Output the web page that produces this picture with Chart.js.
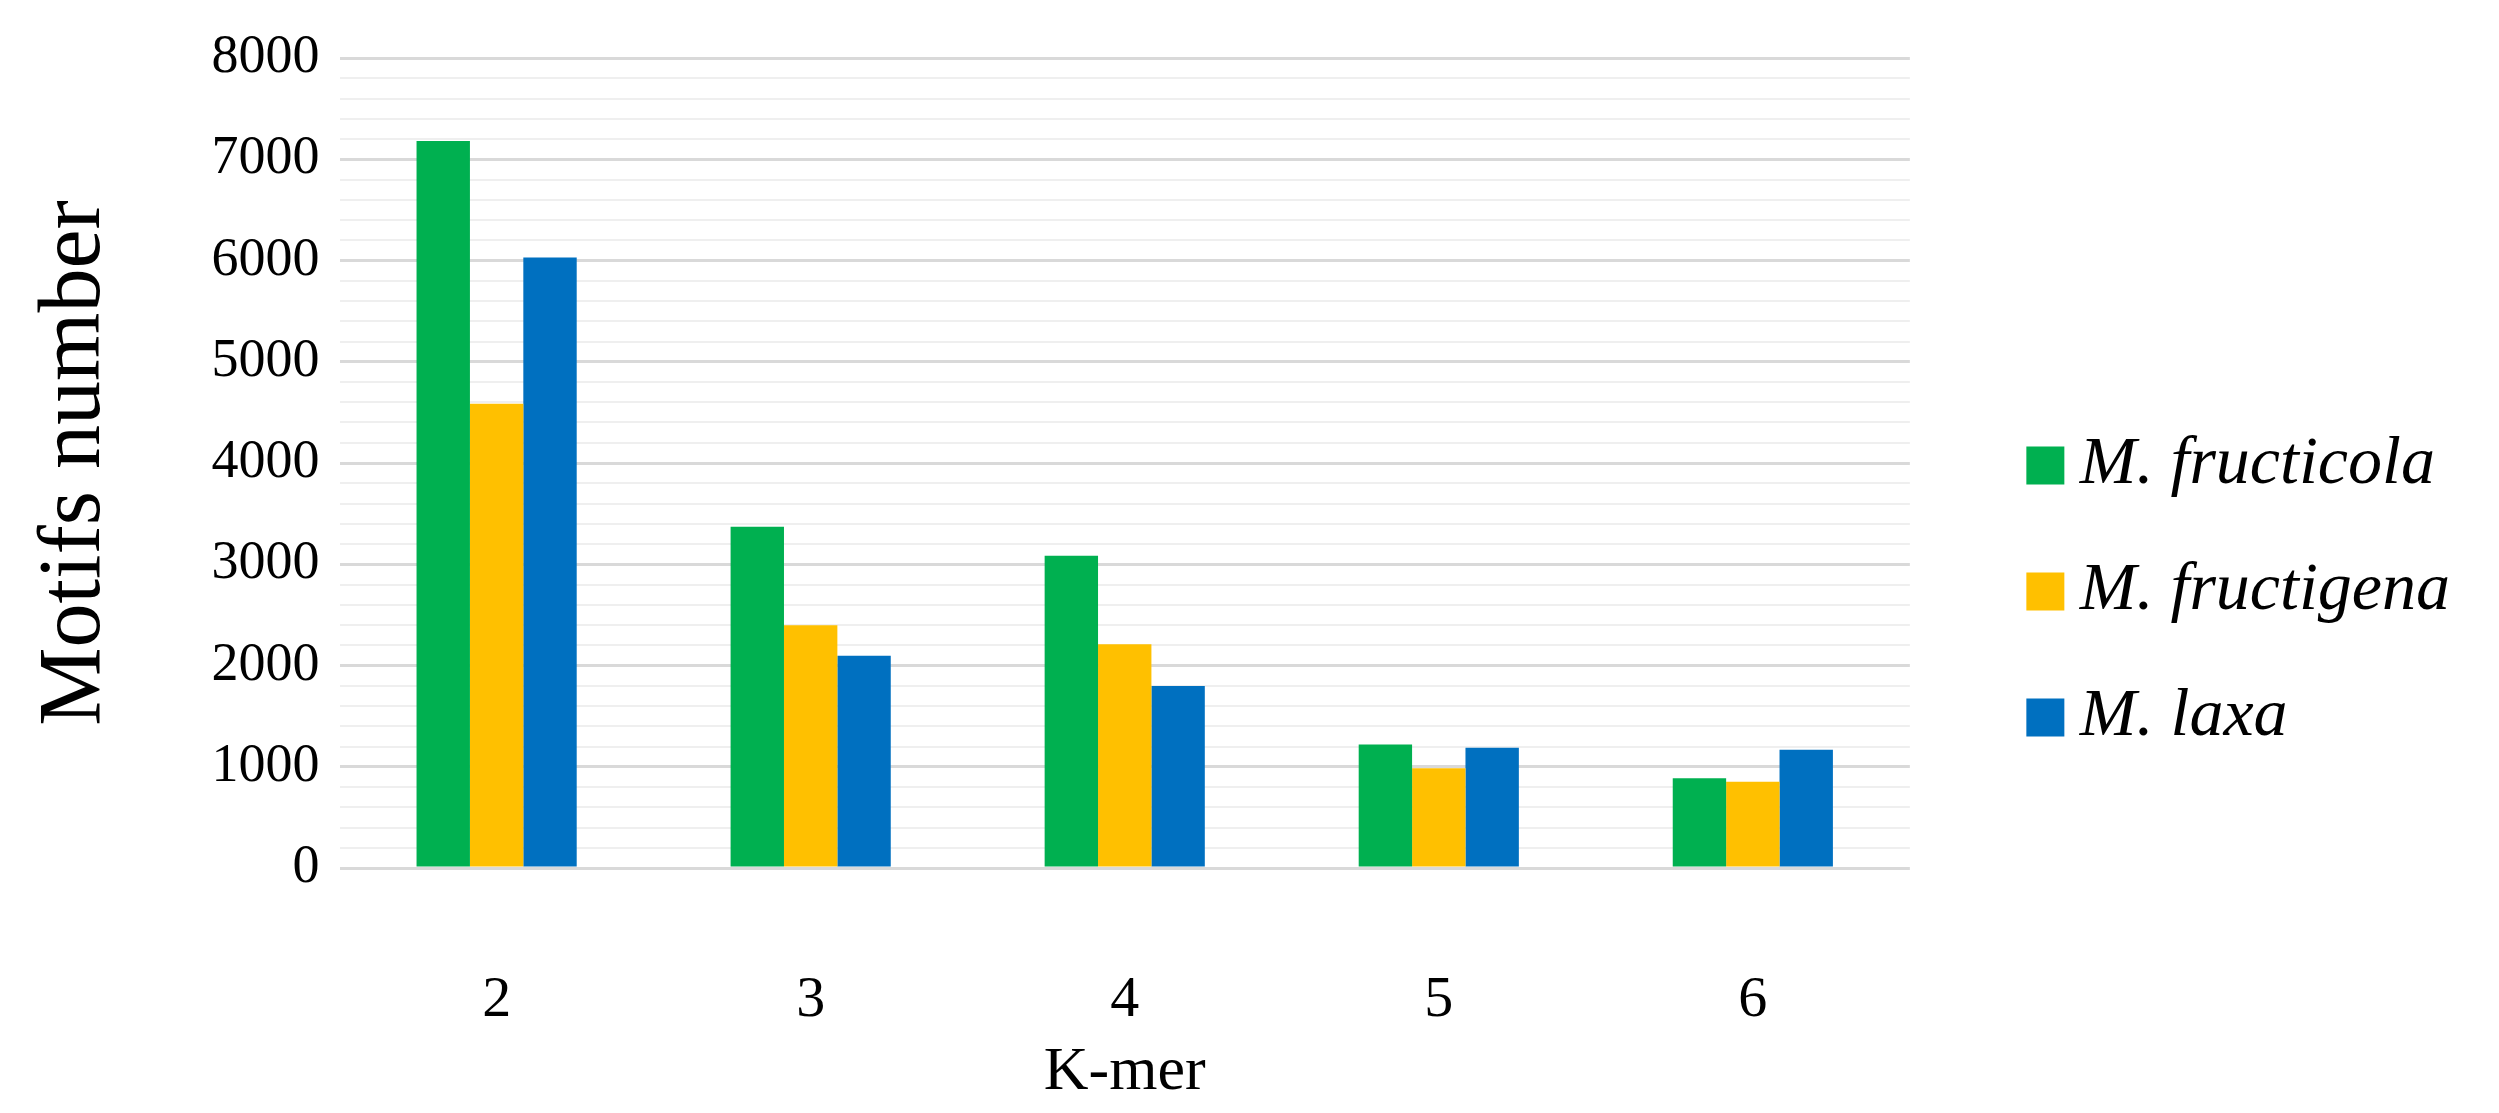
<!DOCTYPE html>
<html lang="en">
<head>
    <meta charset="UTF-8">
    <title>Motifs number by K-mer</title>
    <script src="https://cdn.jsdelivr.net/npm/chart.js"></script>
    <style>
        html, body {
            margin: 0;
            padding: 0;
            background: #ffffff;
            overflow: hidden;
        }

        #chartBox {
            width: 2499px;
            height: 1113px;
            position: relative;
        }
    </style>
</head>
<body>
    <div id="chartBox">
        <canvas id="motifChart"></canvas>
    </div>

    <script>
        // Data
        const kmerLabels = ['2', '3', '4', '5', '6'];
        const fructicolaValues = [7180, 3370, 3085, 1220, 886];
        const fructigenaValues = [4585, 2397, 2209, 985, 852];
        const laxaValues = [6030, 2097, 1797, 1188, 1168];
        const seriesNames = ['M. fructicola', 'M. fructigena', 'M. laxa'];

        const serif = "'Liberation Serif', 'Times New Roman', 'DejaVu Serif', serif";

        const ctx = document.getElementById('motifChart').getContext('2d');
        const motifChart = new Chart(ctx, {
            type: 'bar',
            data: {
                labels: kmerLabels,
                datasets: [
                    { label: seriesNames[0], data: fructicolaValues, backgroundColor: '#00b050' },
                    { label: seriesNames[1], data: fructigenaValues, backgroundColor: '#ffc000' },
                    { label: seriesNames[2], data: laxaValues, backgroundColor: '#0070c0' }
                ]
            },
            options: {
                responsive: true,
                maintainAspectRatio: false,
                animation: false,
                devicePixelRatio: 1,
                layout: {
                    padding: { top: 58, right: 39, bottom: 0, left: 23 }
                },
                datasets: {
                    bar: {
                        categoryPercentage: 0.51,
                        barPercentage: 1.0
                    }
                },
                scales: {
                    x: {
                        grid: { display: false },
                        border: { display: false },
                        ticks: {
                            color: '#000000',
                            padding: 90,
                            font: { family: serif, size: 58 }
                        },
                        title: {
                            display: true,
                            text: 'K-mer',
                            color: '#000000',
                            padding: { top: -90, bottom: 3 },
                            font: { family: serif, size: 62 }
                        }
                    },
                    y: {
                        min: 0,
                        max: 8000,
                        border: { display: false },
                        grid: {
                            drawTicks: false,
                            color: (c) => c.tick && c.tick.value % 1000 === 0 ? '#d9d9d9' : '#efefef',
                            lineWidth: (c) => c.tick && c.tick.value % 1000 === 0 ? 3 : 2
                        },
                        ticks: {
                            stepSize: 200,
                            autoSkip: false,
                            color: '#000000',
                            padding: 20,
                            font: { family: serif, size: 54 },
                            callback: (v) => v % 1000 === 0 ? String(v) : ''
                        },
                        title: {
                            display: true,
                            text: 'Motifs number',
                            color: '#000000',
                            padding: { top: 0, bottom: 63 },
                            font: { family: serif, size: 88 }
                        }
                    },
                    // hidden spacer between the plot and the legend
                    gap: {
                        type: 'linear',
                        position: 'right',
                        display: false,
                        afterFit: (s) => { s.width = 77; }
                    }
                },
                plugins: {
                    tooltip: { enabled: false },
                    legend: {
                        position: 'right',
                        title: {
                            display: true,
                            text: ' ',
                            padding: 0,
                            font: { size: 10 }
                        },
                        labels: {
                            color: '#000000',
                            usePointStyle: true,
                            pointStyle: 'rect',
                            boxWidth: 1,
                            boxHeight: 38,
                            padding: 58,
                            font: { family: serif, size: 68, style: 'italic' }
                        }
                    }
                }
            }
        });
    </script>
</body>
</html>
